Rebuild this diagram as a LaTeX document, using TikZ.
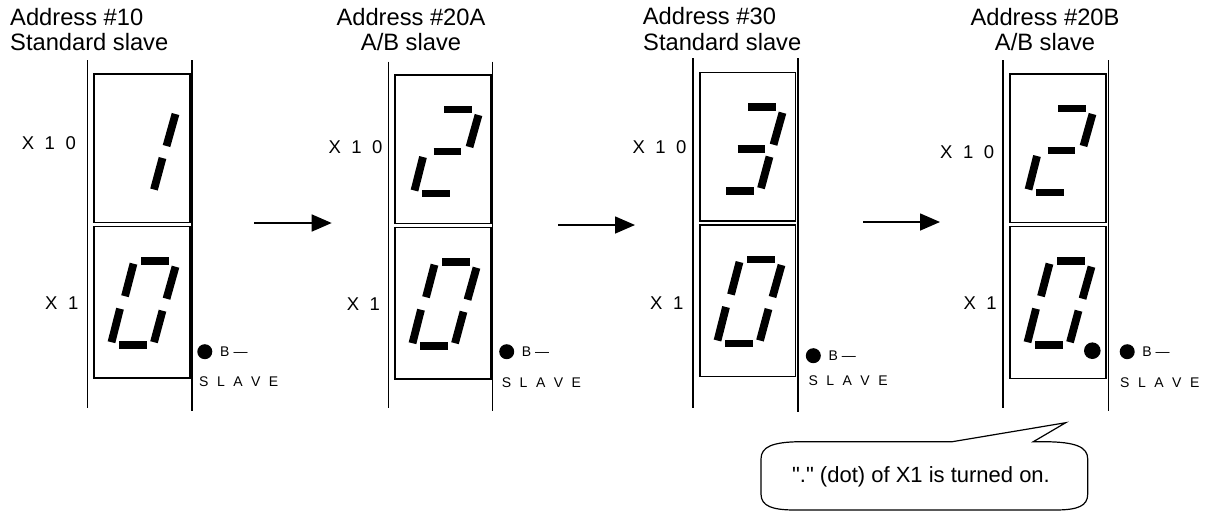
\documentclass[tikz,border=0pt]{standalone}
\usepackage{fontspec}
\setmainfont{Liberation Sans}
\newfontfamily\rawfont{Liberation Sans}[Ligatures=TeXOff]
\usetikzlibrary{arrows.meta}
\newcommand\SegA{\draw[segm] (47,34.5)--(75,34.5);}
\newcommand\SegB{\draw[segm] (81.5,40)--(72.5,72);}
\newcommand\SegC{\draw[segm] (68.5,84)--(60,115.5);}
\newcommand\SegD{\draw[segm] (25,118.5)--(53,118.5);}
\newcommand\SegE{\draw[segm] (26,82)--(17.5,115.5);}
\newcommand\SegF{\draw[segm] (39.5,37)--(31,69.5);}
\newcommand\SegG{\draw[segm] (36.5,76.5)--(64,76.5);}
\newcommand\XTen{X\hspace{10.5pt}1\hspace{10.5pt}0}
\newcommand\XOne{X\hspace{10.5pt}1}
\newcommand\SlaveTxt{S\hspace{8.5pt}L\hspace{8.5pt}A\hspace{8.5pt}V\hspace{8.5pt}E}
\begin{document}
\begin{tikzpicture}[x=1pt,y=-1pt,
  rail/.style={line width=1.6pt},
  dbox/.style={draw,line width=1.4pt},
  segm/.style={line width=7.8pt, line cap=butt},
  hdr/.style={font=\fontsize{23.7}{26}\selectfont, inner sep=0},
  lbl/.style={font=\fontsize{18.5}{20}\selectfont, inner sep=0, anchor=west},
  sml/.style={font=\fontsize{14}{16}\selectfont, inner sep=0, anchor=west},
  flow/.style={line width=1.6pt, -{Triangle[length=20pt,width=17pt]}}
]
\useasboundingbox (0,0) rectangle (1209,512);

% ---------- headers
\node[hdr, anchor=base west] (h1a) at (10,25) {Address \#10};
\node[hdr, anchor=base west] (h1b) at (10,50) {Standard slave};
\node[hdr, anchor=base] (h2a) at (411,25) {Address \#20A};
\node[hdr, anchor=base] (h2b) at (411,50) {A/B slave};
\node[hdr, anchor=base west] (h3a) at (642.7,24) {Address \#30};
\node[hdr, anchor=base west] (h3b) at (643,50) {Standard slave};
\node[hdr, anchor=base] (h4a) at (1045,25) {Address \#20B};
\node[hdr, anchor=base] (h4b) at (1045,50) {A/B slave};

% ---------- panel 1
\draw[rail] (87.3,60) -- (87.3,408);
\draw[rail] (191.7,60) -- (191.7,411);
\draw[dbox] (94,74) rectangle (190,222.7);
\draw[dbox] (94,226.7) rectangle (190,378);
\begin{scope}[shift={(94,74)}] \SegB \SegC \end{scope}
\begin{scope}[shift={(94,226.7)}] \SegA \SegB \SegC \SegD \SegE \SegF \end{scope}
\node[lbl] (x10a) at (21.7,143.3) {\XTen};
\node[lbl] (x1a) at (45,303) {\XOne};
\fill (204.8,351.7) circle[radius=7.5pt];
\node[sml] (b1) at (220,351.7) {B\hspace{4pt}—};
\node[sml] (s1) at (199,381.7) {\SlaveTxt};

% ---------- panel 2
\draw[rail] (388.3,61.7) -- (388.3,408);
\draw[rail] (492.3,61.7) -- (492.3,411);
\draw[dbox] (395,75) rectangle (491,223.3);
\draw[dbox] (395,227.7) rectangle (491,379);
\begin{scope}[shift={(397,75)}] \SegA \SegB \SegG \SegE \SegD \end{scope}
\begin{scope}[shift={(395,227.7)}] \SegA \SegB \SegC \SegD \SegE \SegF \end{scope}
\node[lbl] (x10b) at (328.3,146.7) {\XTen};
\node[lbl] (x1b) at (346.7,304.3) {\XOne};
\fill (506.7,351.7) circle[radius=7.5pt];
\node[sml] (b2) at (521.7,351.7) {B\hspace{4pt}—};
\node[sml] (s2) at (501.7,382.7) {\SlaveTxt};

% ---------- panel 3
\draw[rail] (692.7,58.3) -- (692.7,408);
\draw[rail] (797.7,58.3) -- (797.7,411.7);
\draw[dbox] (700,72.7) rectangle (795.7,221);
\draw[dbox] (700,225) rectangle (795.7,376.7);
\begin{scope}[shift={(701,72.7)}] \SegA \SegB \SegG \SegC \SegD \end{scope}
\begin{scope}[shift={(700,225)}] \SegA \SegB \SegC \SegD \SegE \SegF \end{scope}
\node[lbl] (x10c) at (632.3,146.7) {\XTen};
\node[lbl] (x1c) at (650,303.3) {\XOne};
\fill (813.3,355.7) circle[radius=7.5pt];
\node[sml] (b3) at (828.3,355.7) {B\hspace{4pt}—};
\node[sml] (s3) at (808.3,380.7) {\SlaveTxt};

% ---------- panel 4
\draw[rail] (1002.7,60) -- (1002.7,408.3);
\draw[rail] (1108.3,60) -- (1108.3,411);
\draw[dbox] (1010,74) rectangle (1106,222.7);
\draw[dbox] (1010,226.7) rectangle (1106,378.3);
\begin{scope}[shift={(1011,74)}] \SegA \SegB \SegG \SegE \SegD \end{scope}
\begin{scope}[shift={(1010,226.7)}] \SegA \SegB \SegC \SegD \SegE \SegF \end{scope}
\fill (1092.3,350.7) circle[radius=8.3pt];
\node[lbl] (x10d) at (940,151.7) {\XTen};
\node[lbl] (x1d) at (963.3,303.3) {\XOne};
\fill (1127.2,351.7) circle[radius=7.5pt];
\node[sml] (b4) at (1142.2,351.7) {B\hspace{4pt}—};
\node[sml] (s4) at (1120,382.7) {\SlaveTxt};

% ---------- arrows
\coordinate (a1s) at (254.3,223);
\coordinate (a1e) at (331.7,223);
\coordinate (a2s) at (558.3,225);
\coordinate (a2e) at (635,225);
\coordinate (a3s) at (863.3,222);
\coordinate (a3e) at (940,222);
\draw[flow] (a1s) -- (a1e);
\draw[flow] (a2s) -- (a2e);
\draw[flow] (a3s) -- (a3e);

% ---------- callout
\draw[line width=1.2pt, line join=miter]
  (761,470) -- (761,494)
  .. controls (761,506) and (772,510) .. (795,510)
  -- (1055,510)
  .. controls (1078,510) and (1087.7,506) .. (1087.7,494)
  -- (1087.7,459)
  .. controls (1087.7,447) and (1076,442) .. (1045,441.7)
  -- (1033.3,441.7) -- (1065.7,422.7) -- (952.3,441.7)
  -- (800,441.7)
  .. controls (772,442) and (761,447) .. (761,459)
  -- cycle;
\node[font=\rawfont\fontsize{22}{24}\selectfont, inner sep=0, anchor=base] (note) at (921,482) {"." (dot) of X1 is turned on.};
\end{tikzpicture}
\end{document}
